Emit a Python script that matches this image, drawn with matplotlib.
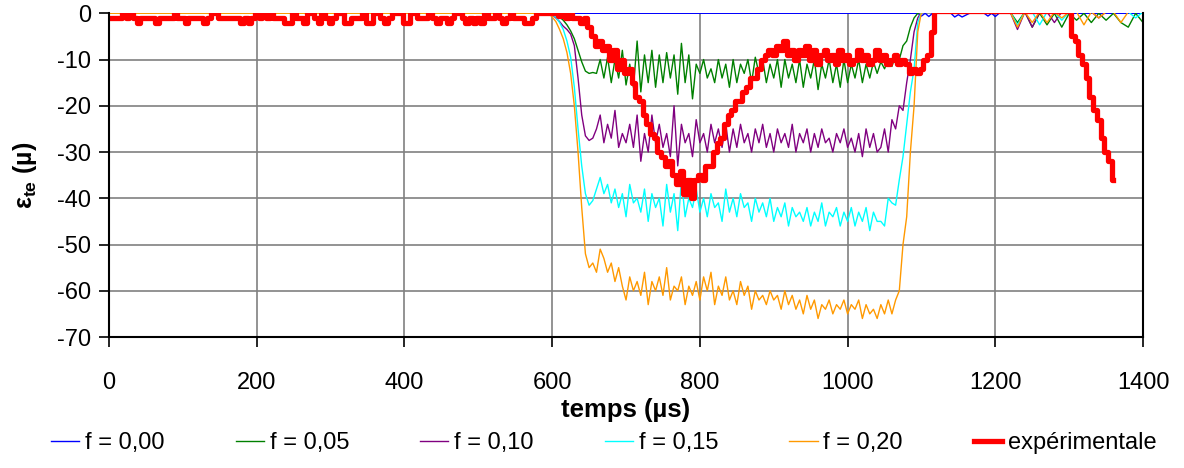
import numpy as np
import matplotlib
matplotlib.use("Agg")
import matplotlib.pyplot as plt

plt.rcParams['font.family'] = ['Liberation Sans', 'DejaVu Sans']
plt.rcParams['mathtext.fontset'] = 'custom'
plt.rcParams['mathtext.rm'] = 'Liberation Sans'
plt.rcParams['mathtext.bf'] = 'Liberation Sans:bold'

# --- Simulated curves: flat at 0 before 590 us, sampled every 5 us from 595 to 1100 ---
sim_start = 595
sim_step = 5

f005 = [0, 0, -0.3, -0.8, -1.5, -2.5, -3.8, -5.5, -8, -10.5,
        -12.5, -13, -12.8, -13, -10, -14, -9.5, -15, -10, -14,
        -8, -15.5, -11, -16, -6, -17, -9, -15, -8, -16,
        -9, -15, -8.5, -14, -9, -17.5, -6.5, -15, -9, -18.5,
        -11, -13, -10, -14, -12, -15, -10, -14, -11, -16,
        -10, -15, -11, -13, -10, -15, -9.5, -13, -10, -15,
        -11, -14, -10, -16, -10, -14, -11, -15, -10, -16,
        -11, -14, -10, -16.5, -11, -14, -10, -15, -11, -16,
        -10, -15, -11, -14, -10, -15, -11, -14, -10.5, -13,
        -10.5, -12, -10, -11.5, -9, -10, -7, -6, -3, -1,
        0, 0.3]

f010 = [0, -0.3, -1, -1.8, -2.8, -3.5, -4.5, -7, -14, -22,
        -26.5, -27.5, -27, -25, -22, -28, -24, -27, -21, -29,
        -26, -28, -24, -29, -22, -32, -26, -30, -22, -28,
        -24, -29, -26, -31, -20, -33, -24, -28, -26, -31,
        -23, -28, -26, -30, -24, -28, -25, -29, -24, -30,
        -25, -29, -24, -28, -26, -30, -25, -28, -24, -29,
        -26, -30, -25, -28, -26, -29, -24, -30, -26, -28,
        -25, -30, -26, -29, -25, -28, -27, -30, -26, -28,
        -25, -29, -27, -30, -26, -31, -25, -29, -26, -30,
        -29, -25, -30, -23, -25, -20, -21, -15, -10, -4,
        -1, 0.3]

f015 = [0, -0.3, -0.8, -2, -3.5, -6, -9.5, -16, -25, -33,
        -39, -41.5, -40.5, -38, -35.5, -39, -37, -41, -38, -42,
        -39, -44, -37, -41, -40, -43, -38, -45, -39, -42,
        -40, -46, -37, -43, -39, -47, -36, -44, -40, -42,
        -38, -43, -40, -44, -39, -42, -41, -45, -38, -43,
        -40, -44, -39, -42, -41, -45, -40, -43, -41, -44,
        -40, -45, -42, -44, -41, -46, -42, -44, -43, -45,
        -42, -46, -43, -45, -41, -46, -43, -44, -42, -46,
        -43, -45, -42, -46, -43, -45, -42, -47, -43, -45,
        -45, -46, -40, -41, -41.5, -36, -31, -24, -17, -12,
        -2, 0.3]

f020 = [0, -0.8, -1.8, -3.5, -5.5, -8.5, -13, -20, -30, -42,
        -52, -55, -54, -56, -51, -53, -56, -54, -58, -55,
        -59, -62, -57, -60, -58, -61, -56, -63, -58, -60,
        -57, -61, -55, -62, -59, -60, -57, -63, -59, -61,
        -58, -62, -57, -60, -56, -63, -59, -61, -57, -62,
        -60, -63, -58, -61, -59, -64, -60, -62, -61, -63,
        -60, -62, -61, -64, -60, -63, -61, -64, -62, -65,
        -61, -64, -62, -66, -63, -64, -62, -65, -63, -64,
        -62, -65, -63, -64, -62, -66, -63, -65, -64, -66,
        -63, -65, -62, -65, -62, -60, -50, -44, -30, -20,
        -4, 0.3]

# small ripples after the event, every 10 us from 1210 to 1400
late_t = [1210, 1220, 1230, 1240, 1250, 1260, 1270, 1280, 1290, 1300,
          1310, 1320, 1330, 1340, 1350, 1360, 1370, 1380, 1390, 1400]
late_005 = [0.3, 0.3, -2, 0.3, -3, 0, -2.5, 0, -3, 0,
            -1.5, 0, -2, 0, -1.5, 0, -2, -3, 0, -2]
late_010 = [0.3, 0.3, -3.5, 0.3, -3, 0.3, 0.3, -2, 0.3, 0.3,
            0.3, 0.3, 0.3, -1, 0.3, 0.3, 0.3, 0.3, 0.3, 0.3]
late_015 = [0.3, 0.3, -2.5, 0.3, 0.3, -2.5, 0.3, 0.3, -1.5, 0.3,
            0.3, 0.3, 0.3, 0.3, 0.3, 0.3, 0.3, 0.3, -1, 0.3]
late_020 = [0.3, 0.3, -3, 0.3, -2, 0.3, -2, 0.3, -1, 0.3,
            0.3, -2.5, 0.3, -1, 0.3, 0.3, -2, 0.3, 0.3, 0.3]

# f = 0,00 stays on zero, tiny ripples only
f000_t = [0, 1095, 1100, 1105, 1110, 1115, 1140, 1145, 1150, 1155,
          1160, 1165, 1185, 1190, 1195, 1200, 1205, 1400]
f000 = [0, 0, -0.6, 0, -0.7, 0, 0, -0.8, -0.3, -0.8,
        -0.4, 0, 0, -0.6, 0, -0.7, 0, 0]

# --- Experimental signal, 5 us sampling ---
exp_base = [-1, -1, -1, -1, 0, -1, 0, -1, -2, -1,
            -1, -1, -1, -2, -1, -1, -1, -1, 0, -1,
            -1, -2, -1, -1, -1, -1, -2, -1, 0, 0,
            -1, -1, -1, -1, -1, -1, -2, -1, -2, -1,
            0, -1, 0, -1, 0, -1, -1, -1, -2, -2,
            0, -1, -1, -2, 0, 0, -1, -2, 0, -1,
            -2, -1, 0, 0, -2, -2, -1, -1, -1, 0,
            -2, -2, 0, 0, -1, -2, -1, 0, 0, 0,
            -2, -2, 0, 0, -1, -1, -1, 0, -1, -2,
            -1, -1, -2, -1, 0, 0, -1, -2, -1, -2,
            -1, -2, 0, -1, -1, 0, -1, -2, -1, 0,
            -1, -1, -1, -2, -2, -1, 0, 0, 0, 0]
exp_event = [0, 0, -0.5, 0, -1, 0, -1, -1, -2, -1,
             -3, -5, -7, -6, -8, -7, -10, -8, -12, -10,
             -13, -12, -15, -18, -19, -22, -24, -26, -27, -30,
             -31, -33, -32, -35, -37, -34, -39, -36, -40, -36,
             -35, -36, -33, -33, -30, -28, -27, -24, -22, -21,
             -19, -19, -17, -16, -14, -14, -12, -10, -9, -8,
             -9, -7, -8, -6, -9, -8, -10, -8, -9, -7,
             -10, -8, -11, -9, -8, -10, -9, -11, -8, -10,
             -9, -11, -10, -8, -10, -9, -11, -10, -8, -10,
             -9, -11, -10, -9, -11, -10, -11, -13, -12, -13,
             -12, -10, -9, -4, 0.5]
exp_gap_t = [1130, 1300]
exp_gap = [0.5, 0.5]
exp_tail = [-5, -6, -9, -11, -14, -18, -21, -23, -27, -30, -32, -36]

labels = ['f = 0,00', 'f = 0,05', 'f = 0,10', 'f = 0,15', 'f = 0,20', 'expérimentale']
colors = ['#0000FF', '#008000', '#800080', '#00FFFF', '#FF9900', '#FF0000']


def sim_series(vals, late):
    t = np.concatenate([[0, 590], sim_start + sim_step * np.arange(len(vals)), [1110, 1200], late_t])
    v = np.concatenate([[0, 0], vals, [0.3, 0.3], late])
    return t, v


fig = plt.figure(figsize=(11.84, 4.68), dpi=100)
ax = fig.add_axes([0.0921, 0.2799, 0.8733, 0.6917])

ax.plot(f000_t, f000, color=colors[0], lw=1.0, label=labels[0])
for vals, late, c, lab in zip([f005, f010, f015, f020],
                              [late_005, late_010, late_015, late_020],
                              colors[1:5], labels[1:5]):
    t, v = sim_series(vals, late)
    ax.plot(t, v, color=c, lw=1.0, label=lab)

exp_t = np.concatenate([5 * np.arange(len(exp_base)),
                        600 + 5 * np.arange(len(exp_event)),
                        exp_gap_t,
                        1305 + 5 * np.arange(len(exp_tail))])
exp_v = np.concatenate([exp_base, exp_event, exp_gap, exp_tail])
ax.plot(exp_t, exp_v, color=colors[5], lw=3.8, drawstyle='steps-mid', label=labels[5])

ax.set_xlim(0, 1400)
ax.set_ylim(-70, 0)
ax.set_xticks(range(0, 1401, 200))
ax.set_yticks(range(-70, 1, 10))
ax.set_yticklabels([str(v) for v in range(-70, 1, 10)])
ax.grid(True, color='#808080', lw=1.2)
ax.set_axisbelow(True)
for s in ['left', 'bottom', 'right']:
    ax.spines[s].set_color('black')
    ax.spines[s].set_linewidth(1.5)
ax.spines['top'].set_visible(False)
ax.tick_params(axis='both', labelsize=17, direction='out', length=7, width=1.2)
ax.tick_params(axis='x', pad=18)
ax.tick_params(axis='y', pad=6)

ax.set_xlabel('temps (µs)', fontsize=18.5, fontweight='bold', labelpad=3)
ax.set_ylabel(r'$\mathbf{\varepsilon_{te}}$ (µ)', fontsize=18, fontweight='bold', labelpad=13)

fig.legend(loc='center', bbox_to_anchor=(0.51, 0.053), ncol=6, frameon=False,
           fontsize=17, handlelength=1.2, columnspacing=3.0, handletextpad=0.25)

fig.savefig('out.png', dpi=100)
